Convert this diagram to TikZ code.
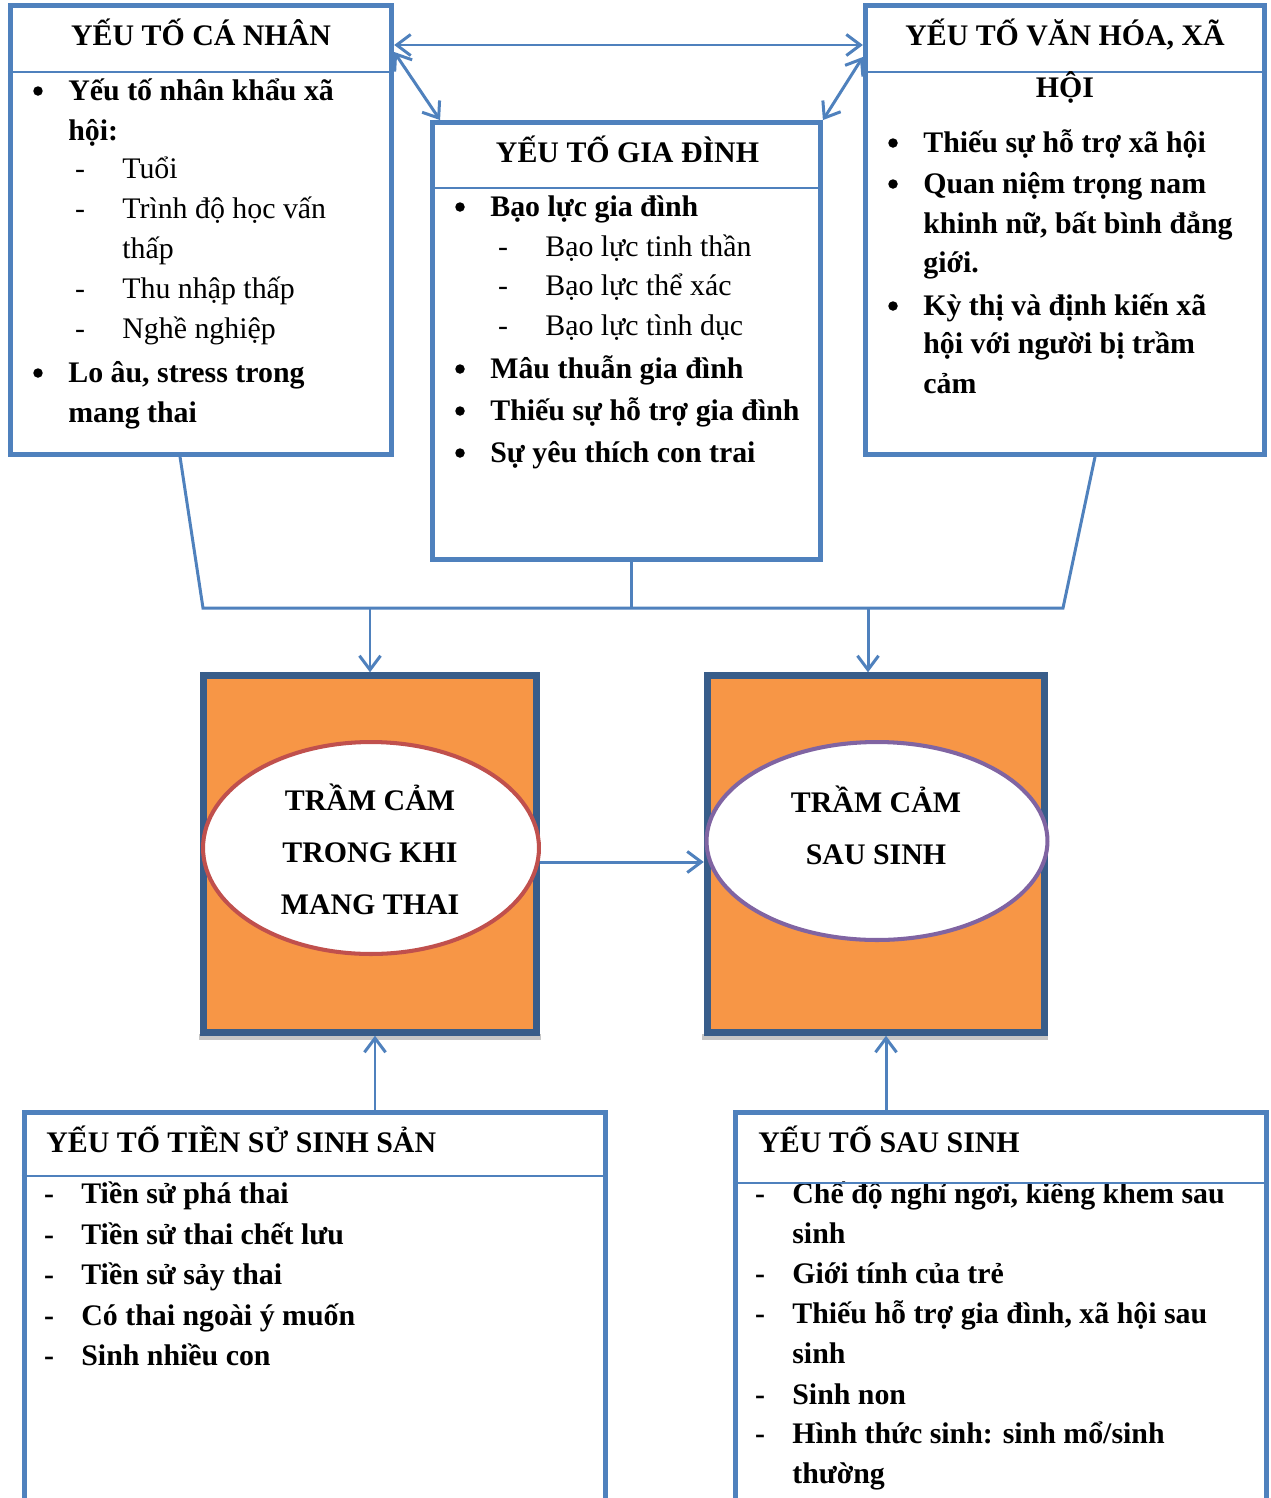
\documentclass[tikz,border=0pt]{standalone}
\usepackage{fontspec}
\setmainfont{Liberation Serif}
\usetikzlibrary{shapes,arrows.meta,positioning,calc}
\definecolor{boxblue}{HTML}{4F81BD}
\definecolor{darkblue}{HTML}{385D8A}
\definecolor{orangefill}{HTML}{F79646}
\definecolor{ovalred}{HTML}{C0504D}
\definecolor{ovalpurple}{HTML}{8064A2}
\tikzstyle{box} = [draw=boxblue,line width=2.8pt,rectangle,inner sep=0]
\tikzstyle{core} = [draw=darkblue,fill=orangefill,line width=4pt,rectangle,inner sep=0]
\tikzstyle{oval} = [ellipse,fill=white,line width=2.3pt,inner sep=0]
\tikzstyle{sepline} = [draw=boxblue,line width=1.1pt]
\tikzstyle{link} = [draw=boxblue,line width=1.7pt]
\tikzstyle{arr} = [link,-{Straight Barb[length=8pt,width=12pt]}]
\tikzstyle{darr} = [link,{Straight Barb[length=8pt,width=12pt]}-{Straight Barb[length=8pt,width=12pt]}]
\tikzstyle{txt} = [inner sep=0,anchor=base west,font=\fontsize{17}{22}\selectfont]
\tikzstyle{hd} = [txt,font=\fontsize{17}{22}\selectfont\bfseries]
\tikzstyle{itemdot} = [circle,fill=black,inner sep=0,minimum size=0.19cm]
\tikzstyle{itemdash} = [txt,anchor=base]
\def \tip {0.2cm}

\begin{document}
\begin{tikzpicture}[x=0.02cm,y=-0.02cm]
  \clip (0,0) rectangle (1271,1498);
  \fill[white] (0,0) rectangle (1271,1498);

  % factor boxes
  \node[box,minimum width=7.63cm,minimum height=8.97cm] (canhan) at (201,230) {};
  \node[box,minimum width=7.76cm,minimum height=8.74cm] (giadinh) at (626.5,341) {};
  \node[box,minimum width=7.99cm,minimum height=8.98cm] (vanhoa) at (1065,230) {};
  \node[box,minimum width=11.64cm,minimum height=9cm] (tiensu) at (315,1337) {};
  \node[box,minimum width=10.63cm,minimum height=9cm] (hausinh) at (1001,1337) {};
  \draw[sepline] (canhan.west |- 0,72) -- (canhan.east |- 0,72);
  \draw[sepline] (giadinh.west |- 0,188) -- (giadinh.east |- 0,188);
  \draw[sepline] (vanhoa.west |- 0,72) -- (vanhoa.east |- 0,72);
  \draw[sepline] (tiensu.west |- 0,1176) -- (tiensu.east |- 0,1176);

  % depression boxes
  \fill[gray!45] (199,1034) rectangle (541,1040);
  \fill[gray!45] (702,1034) rectangle (1048,1040);
  \node[core,minimum width=6.68cm,minimum height=7.13cm] (mangthai) at (370,854) {};
  \node[core,minimum width=6.75cm,minimum height=7.13cm] (sausinh) at (876,854) {};
  \node[oval,draw=ovalred,minimum width=6.72cm,minimum height=4.24cm] (ovlL) at (371,848) {};
  \node[oval,draw=ovalpurple,minimum width=6.82cm,minimum height=3.96cm] (ovlR) at (877,841) {};
  \foreach \y/\t [count=\i] in {810/TRẦM CẢM,862/TRONG KHI,914/MANG THAI}
    \node[hd,anchor=base] (ovlLt\i) at (370,\y) {\t};
  \foreach \y/\t [count=\i] in {812/TRẦM CẢM,864/SAU SINH}
    \node[hd,anchor=base] (ovlRt\i) at (876,\y) {\t};

  % connectors
  \coordinate (jl) at (203,608);
  \coordinate (jr) at (1063,608);
  \coordinate (dl) at (370,608);
  \coordinate (dr) at (868,608);
  \draw[darr] (canhan.east |- 0,45) -- (vanhoa.west |- 0,45);
  \draw[darr] (canhan.east |- 0,52) -- ([xshift=\tip]giadinh.north west);
  \draw[darr] (vanhoa.west |- 0,57) -- (giadinh.north east);
  \draw[link] ([xshift=-0.42cm]canhan.south) -- (jl) -- (jr) -- ([xshift=0.6cm]vanhoa.south);
  \draw[link] ([xshift=0.1cm]giadinh.south) -- ([xshift=0.1cm]giadinh.south |- jl);
  \draw[arr] (dl) -- (dl |- mangthai.north);
  \draw[arr] (dr) -- (dr |- sausinh.north);
  \draw[arr] (mangthai.east |- 0,862) -- (sausinh.west |- 0,862);
  \draw[arr] (375,0 |- tiensu.north) -- (375,0 |- mangthai.south);
  \draw[arr] (886,0 |- hausinh.north) -- (886,0 |- sausinh.south);

  % ca nhan
  \node[hd,anchor=base] (cnT) at (201,45) {YẾU TỐ CÁ NHÂN};
  \foreach \y [count=\i] in {100,382} \node[itemdot] (cnDot\i) at (38,\y-9) {};
  \foreach \y [count=\i] in {178,218,298,338} \node[itemdash] (cnDash\i) at (80,\y) {-};
  \foreach \y/\t [count=\i] in {100/Yếu tố nhân khẩu xã,140/hội:,382/{Lo âu, stress trong},422/mang thai}
    \node[hd] (cnB\i) at (68,\y) {\t};
  \foreach \y/\t [count=\i] in {178/Tuổi,218/Trình độ học vấn,258/thấp,298/Thu nhập thấp,338/Nghề nghiệp}
    \node[txt] (cnS\i) at (122,\y) {\t};

  % gia dinh
  \node[hd,anchor=base] (gdT) at (627.5,162) {YẾU TỐ GIA ĐÌNH};
  \foreach \y [count=\i] in {216,378,420,462} \node[itemdot] (gdDot\i) at (460,\y-9) {};
  \foreach \y [count=\i] in {256,295,335} \node[itemdash] (gdDash\i) at (503,\y) {-};
  \foreach \y/\t [count=\i] in {216/Bạo lực gia đình,378/Mâu thuẫn gia đình,420/Thiếu sự hỗ trợ gia đình,462/Sự yêu thích con trai}
    \node[hd] (gdB\i) at (490,\y) {\t};
  \foreach \y/\t [count=\i] in {256/Bạo lực tinh thần,295/Bạo lực thể xác,335/Bạo lực tình dục}
    \node[txt] (gdS\i) at (545,\y) {\t};

  % van hoa, xa hoi
  \node[hd,anchor=base] (vhT1) at (1065,45) {YẾU TỐ VĂN HÓA, XÃ};
  \node[hd,anchor=base] (vhT2) at (1065,97) {HỘI};
  \foreach \y [count=\i] in {152,193,315} \node[itemdot] (vhDot\i) at (893,\y-9) {};
  \foreach \y/\t [count=\i] in {152/Thiếu sự hỗ trợ xã hội,193/Quan niệm trọng nam,233/{khinh nữ, bất bình đẳng},272/giới.,315/Kỳ thị và định kiến xã,353/hội với người bị trầm,393/cảm}
    \node[hd] (vhB\i) at (923,\y) {\t};

  % tien su sinh san
  \node[hd] (tsT) at (46,1152) {YẾU TỐ TIỀN SỬ SINH SẢN};
  \foreach \y/\t [count=\i] in {1203/Tiền sử phá thai,1244/Tiền sử thai chết lưu,1284/Tiền sử sảy thai,1325/Có thai ngoài ý muốn,1365/Sinh nhiều con} {
    \node[itemdash,font=\fontsize{17}{22}\selectfont\bfseries] (tsDash\i) at (49,\y) {-};
    \node[hd] (tsB\i) at (81,\y) {\t};
  }

  % sau sinh
  \node[hd] (ssT) at (758,1152) {YẾU TỐ SAU SINH};
  \foreach \y [count=\i] in {1203,1283,1323,1404,1443}
    \node[itemdash,font=\fontsize{17}{22}\selectfont\bfseries] (ssDash\i) at (760,\y) {-};
  \foreach \y/\t [count=\i] in {1203/{Chế độ nghỉ ngơi, kiêng khem sau},1243/sinh,1283/Giới tính của trẻ,1323/{Thiếu hỗ trợ gia đình, xã hội sau},1363/sinh,1404/Sinh non,1443/{Hình thức sinh: sinh mổ/sinh},1483/thường}
    \node[hd] (ssB\i) at (792,\y) {\t};
  \draw[sepline] (hausinh.west |- 0,1183) -- (hausinh.east |- 0,1183);
\end{tikzpicture}
\end{document}
